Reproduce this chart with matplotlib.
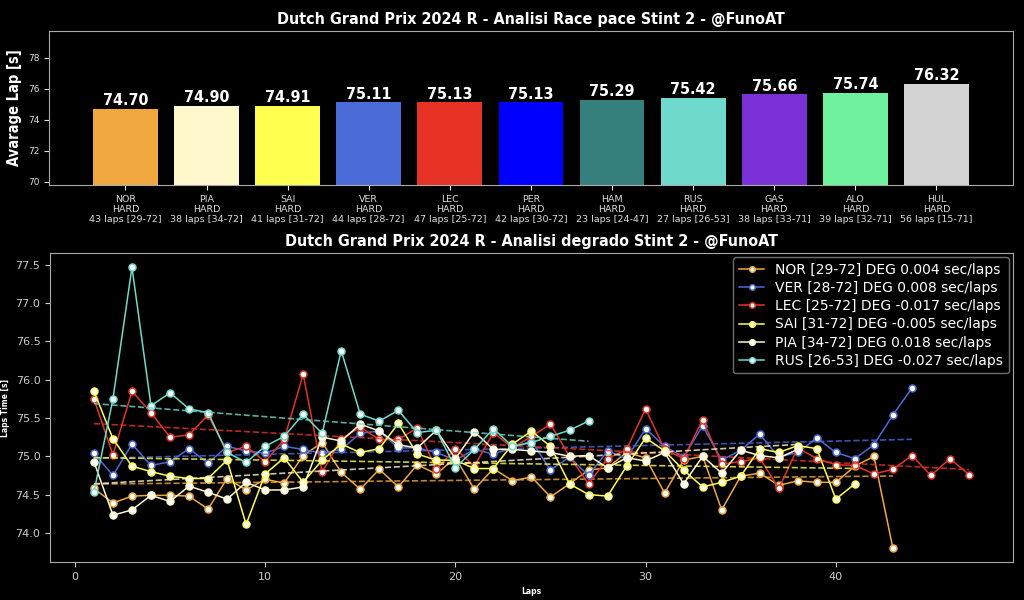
import numpy as np
import matplotlib
matplotlib.use('Agg')
import matplotlib.pyplot as plt

plt.style.use('dark_background')

TITLE_FONT = dict(family=['DejaVu Sans'], fontweight='bold', fontstretch='condensed')

# Race pace (top chart)
drivers = ['NOR', 'PIA', 'SAI', 'VER', 'LEC', 'PER', 'HAM', 'RUS', 'GAS', 'ALO', 'HUL']
compounds = ['HARD'] * 11
stint_laps = [43, 38, 41, 44, 47, 42, 23, 27, 38, 39, 56]
lap_ranges = ['29-72', '34-72', '31-72', '28-72', '25-72', '30-72', '24-47', '26-53', '33-71', '32-71', '15-71']
avg_lap = [74.70, 74.90, 74.91, 75.11, 75.13, 75.13, 75.29, 75.42, 75.66, 75.74, 76.32]
bar_colors = ['#F0A83E', '#FFF8CC', '#FFFF4F', '#4B6BD9', '#E63325', '#0000FF',
              '#357F7C', '#6FDACB', '#7B2FD6', '#6FF29E', '#D3D3D3']

# Degradation (bottom chart), lap times per lap of the stint
nor_laps = [74.58, 74.39, 74.48, 74.49, 74.49, 74.48, 74.31, 74.71, 74.56, 74.70,
            74.65, 75.01, 75.18, 74.79, 74.57, 74.83, 74.60, 74.89, 74.77, 74.98,
            74.57, 74.84, 74.68, 74.73, 74.47, 74.64, 74.82, 74.85, 75.05, 74.98,
            74.52, 74.95, 75.00, 74.30, 74.74, 74.78, 74.62, 74.68, 74.66, 74.66,
            74.87, 75.00, 73.80]
ver_laps = [75.04, 74.75, 75.16, 74.88, 74.93, 75.10, 74.91, 75.13, 75.07, 75.04,
            75.13, 75.09, 75.04, 75.09, 75.30, 75.33, 75.11, 75.11, 75.05, 74.95,
            75.09, 75.03, 75.11, 75.20, 74.82, 74.99, 74.75, 75.07, 74.97, 75.36,
            75.13, 74.99, 75.40, 74.95, 75.08, 75.29, 74.99, 75.05, 75.24, 75.05,
            74.97, 75.15, 75.54, 75.89]
lec_laps = [75.75, 75.02, 75.85, 75.57, 75.25, 75.28, 75.54, 75.05, 75.13, 74.93,
            75.22, 76.07, 74.79, 75.23, 75.38, 75.22, 75.22, 75.37, 74.83, 75.10,
            74.87, 75.31, 75.11, 75.26, 75.42, 75.00, 74.64, 74.97, 75.09, 75.62,
            75.09, 74.97, 75.48, 74.90, 74.93, 74.98, 74.58, 75.11, 74.97, 74.89,
            74.88, 74.77, 74.83, 75.01, 74.75, 74.97, 74.76]
sai_laps = [75.85, 75.23, 74.87, 74.80, 74.74, 74.71, 74.71, 74.95, 74.11, 74.77,
            74.98, 74.66, 74.95, 75.16, 75.05, 75.10, 75.43, 75.03, 74.95, 74.95,
            74.84, 74.84, 75.16, 75.33, 75.13, 74.64, 74.50, 74.48, 74.87, 75.24,
            75.07, 74.82, 74.60, 74.66, 74.74, 75.10, 75.05, 75.14, 75.10, 74.44,
            74.64]
pia_laps = [74.93, 74.23, 74.30, 74.49, 74.41, 74.61, 74.53, 74.44, 74.66, 74.56,
            74.56, 74.60, 75.25, 75.20, 75.42, 75.33, 75.15, 75.11, 75.34, 74.97,
            75.32, 75.09, 75.09, 75.07, 75.05, 75.00, 75.01, 74.85, 74.98, 74.94,
            75.05, 74.64, 75.00, 74.78, 75.08, 75.01, 74.98, 75.09]
rus_laps = [74.53, 75.75, 77.47, 75.66, 75.83, 75.62, 75.57, 75.05, 74.92, 75.13,
            75.26, 75.55, 75.30, 76.38, 75.55, 75.46, 75.60, 75.31, 75.34, 74.85,
            75.09, 75.36, 75.13, 75.18, 75.26, 75.34, 75.46]

deg_series = [
    ('NOR [29-72] DEG 0.004 sec/laps', nor_laps, '#F0A83E'),
    ('VER [28-72] DEG 0.008 sec/laps', ver_laps, '#4B6BD9'),
    ('LEC [25-72] DEG -0.017 sec/laps', lec_laps, '#E63325'),
    ('SAI [31-72] DEG -0.005 sec/laps', sai_laps, '#FFFF4F'),
    ('PIA [34-72] DEG 0.018 sec/laps', pia_laps, '#FFF8CC'),
    ('RUS [26-53] DEG -0.027 sec/laps', rus_laps, '#6FDACB'),
]

fig = plt.figure(figsize=(10.24, 6), dpi=100)
fig.patch.set_facecolor('black')

# ---- top: average lap per driver
ax1 = fig.add_axes([0.048, 0.692, 0.941, 0.256])
x = np.arange(len(drivers))
bars = ax1.bar(x, avg_lap, color=bar_colors, width=0.8)
for b, v in zip(bars, avg_lap):
    ax1.text(b.get_x() + b.get_width() / 2, v + 0.02, f"{v:.2f}", ha='center', va='bottom',
             color='white', fontsize=11.5, **TITLE_FONT)
tick_labels = [f"{d}\n{c}\n{n} laps [{r}]" for d, c, n, r in zip(drivers, compounds, stint_laps, lap_ranges)]
ax1.set_xticks(x)
ax1.set_xticklabels(tick_labels, fontsize=6.8, color='#dddddd')
ax1.set_ylim(69.8, 79.7)
ax1.set_yticks([70, 72, 74, 76, 78])
ax1.tick_params(axis='y', labelsize=6.5, colors='#dddddd')
ax1.set_ylabel("Avarage Lap [s]", fontsize=10.5, labelpad=4, **TITLE_FONT)
ax1.set_title("Dutch Grand Prix 2024 R - Analisi Race pace Stint 2 - @FunoAT",
              fontsize=11.5, pad=5, **TITLE_FONT)
for s in ax1.spines.values():
    s.set_color('#aaaaaa')

# ---- bottom: lap times and degradation trend
ax2 = fig.add_axes([0.049, 0.063, 0.94, 0.515])
for label, times, col in deg_series:
    laps = np.arange(1, len(times) + 1)
    ax2.plot(laps, times, color=col, linewidth=1.1, marker='o', markersize=5,
             markerfacecolor='white', markeredgecolor=col, markeredgewidth=1.1, label=label)
    k, q = np.polyfit(laps, times, 1)
    ax2.plot(laps, k * laps + q, color=col, linestyle='--', linewidth=1.2, alpha=0.8)

ax2.set_xlabel("Laps", fontsize=5.5, fontweight='bold')
ax2.set_ylabel("Laps Time [s]", fontsize=5.5, fontweight='bold')
ax2.tick_params(labelsize=8, colors='#cccccc')
ax2.set_title("Dutch Grand Prix 2024 R - Analisi degrado Stint 2 - @FunoAT",
              fontsize=11.5, pad=5, **TITLE_FONT)
for s in ax2.spines.values():
    s.set_color('#aaaaaa')
leg = ax2.legend(loc='upper right', fontsize=10, facecolor='black', edgecolor='#888888',
                 labelspacing=0.3, handlelength=1.8, borderaxespad=0.3, markerscale=0.8)

plt.savefig("out.png", dpi=100, facecolor=fig.get_facecolor())
